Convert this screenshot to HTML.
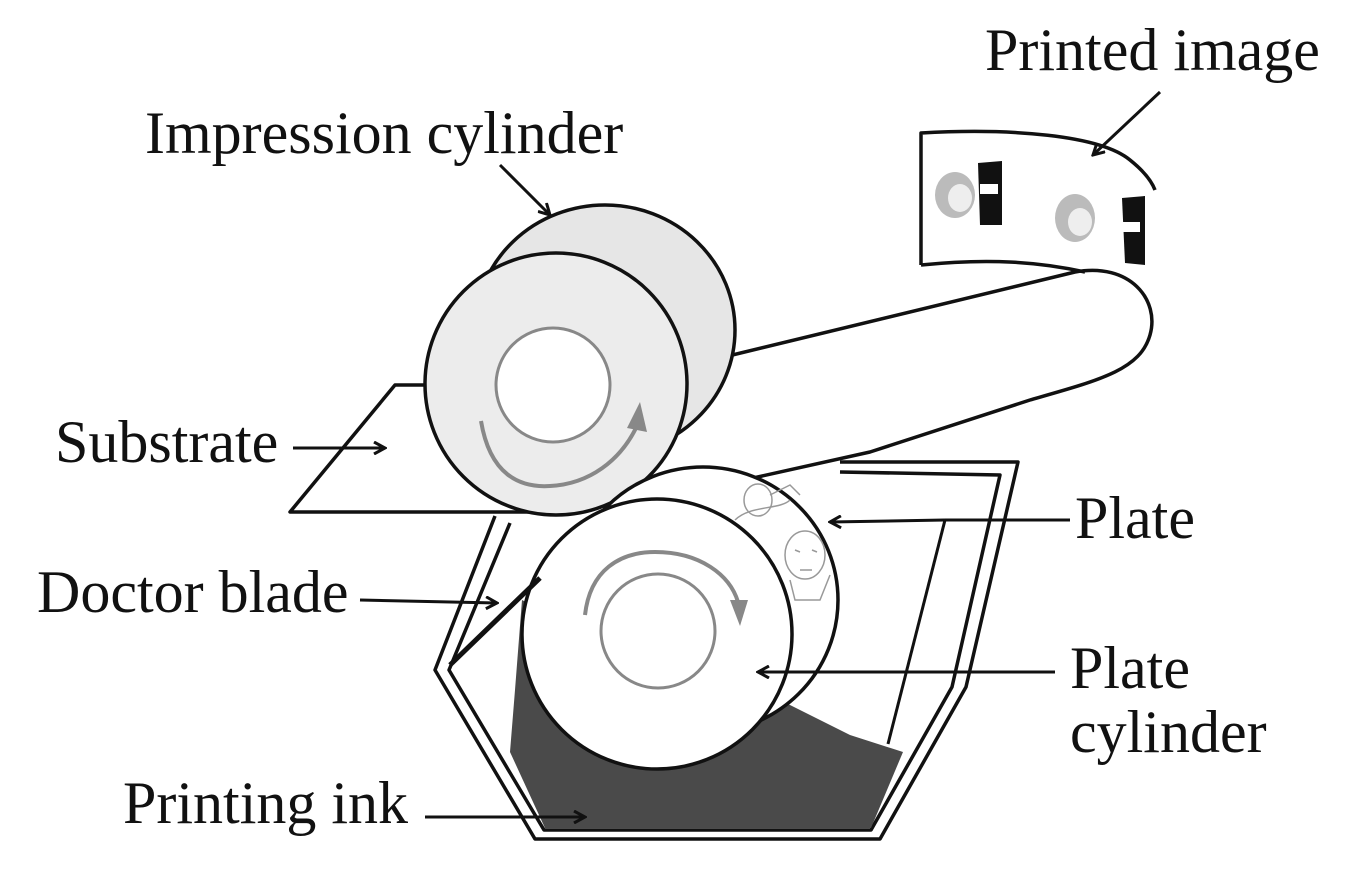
<!DOCTYPE html>
<html><head><style>
html,body{margin:0;padding:0;background:#fff;}
svg{display:block;}
text{font-family:"Liberation Serif",serif;font-size:60px;fill:#111;}
</style></head><body>
<svg width="1368" height="877" viewBox="0 0 1368 877" xmlns="http://www.w3.org/2000/svg">
<defs>
<marker id="ah" markerWidth="14" markerHeight="14" refX="12" refY="7" orient="auto" markerUnits="userSpaceOnUse">
<path d="M1,1 L12,7 L1,13" fill="none" stroke="#111" stroke-width="3"/>
</marker>
</defs>
<g fill="none" stroke="#111" stroke-width="3.5" stroke-linejoin="round">
<path d="M440,385 L395,385 L290,512 L560,512" fill="#fff"/>
<path d="M720,358 L1075,272 C1130,262 1160,300 1150,335 C1140,370 1100,380 1030,400 L870,452 L600,512" fill="#fff"/>
<path d="M921,265 L921,133 C1010,128 1100,135 1130,160 C1145,172 1152,182 1155,190" fill="#fff"/>
<path d="M921,265 C990,258 1040,262 1085,272"/>
<path d="M840,462 L1018,462 L966,687 L880,839 L535,839 L435,670 L495,516"/>
<path d="M840,472 L1000,475 L952,687 L871,830 L544,830 L449,670 L510,523"/>
</g>
<g>
<ellipse cx="955" cy="195" rx="20" ry="23" fill="#bbb"/>
<ellipse cx="960" cy="198" rx="12" ry="14" fill="#eee"/>
<path d="M978,163 L1002,161 L1002,225 L980,225 Z" fill="#111"/>
<rect x="980" y="184" width="18" height="10" fill="#fff"/>
<ellipse cx="1075" cy="218" rx="20" ry="24" fill="#bbb"/>
<ellipse cx="1080" cy="222" rx="12" ry="14" fill="#eee"/>
<path d="M1122,198 L1145,196 L1145,265 L1125,263 Z" fill="#111"/>
<rect x="1120" y="222" width="20" height="10" fill="#fff"/>
</g>
<g stroke="#111" stroke-width="3.5">
<ellipse cx="605" cy="330" rx="130" ry="125" fill="#e6e6e6"/>
<ellipse cx="556" cy="384" rx="131" ry="131" fill="#ececec"/>
</g>
<circle cx="553" cy="385" r="57" fill="#fff" stroke="#888" stroke-width="3"/>
<path d="M481,421 C490,475 520,488 550,486 C590,484 620,460 636,428" fill="none" stroke="#888" stroke-width="4"/>
<path d="M627,428 L640,402 L647,432 Z" fill="#888"/>
<path d="M545,828 L510,752 L515,690 L522,600 L600,640 L780,700 L850,735 L903,752 L871,828 Z" fill="#4a4a4a"/>
<g stroke="#111" stroke-width="3.5">
<ellipse cx="703" cy="600" rx="135" ry="133" fill="#fff"/>
<ellipse cx="657" cy="634" rx="135" ry="135" fill="#fff"/>
</g>
<g fill="none" stroke="#999" stroke-width="1.5">
<ellipse cx="758" cy="500" rx="14" ry="16"/>
<path d="M735,520 C750,505 780,510 790,500 M770,495 L790,485 L800,495"/>
<ellipse cx="805" cy="555" rx="20" ry="24"/>
<path d="M795,550 L800,552 M812,550 L817,552 M800,570 L812,570 M790,580 L795,600 L820,600 L830,575"/>
</g>
<circle cx="658" cy="631" r="57" fill="#fff" stroke="#888" stroke-width="3"/>
<path d="M585,615 C590,570 620,552 655,552 C700,552 730,575 738,602" fill="none" stroke="#888" stroke-width="4"/>
<path d="M730,600 L748,600 L740,626 Z" fill="#888"/>
<line x1="540" y1="578" x2="450" y2="665" stroke="#111" stroke-width="5"/>
<g stroke="#111" stroke-width="3" fill="none">
<line x1="1070" y1="520" x2="945" y2="520"/>
<line x1="945" y1="520" x2="888" y2="744"/>
<line x1="945" y1="520" x2="830" y2="522" marker-end="url(#ah)"/>
<line x1="500" y1="165" x2="550" y2="215" marker-end="url(#ah)"/>
<line x1="1160" y1="92" x2="1093" y2="155" marker-end="url(#ah)"/>
<line x1="293" y1="448" x2="385" y2="448" marker-end="url(#ah)"/>
<line x1="360" y1="600" x2="497" y2="603" marker-end="url(#ah)"/>
<line x1="1055" y1="672" x2="758" y2="672" marker-end="url(#ah)"/>
<line x1="425" y1="817" x2="585" y2="817" marker-end="url(#ah)"/>
</g>
<text x="985" y="70">Printed image</text>
<text x="145" y="153">Impression cylinder</text>
<text x="55" y="462">Substrate</text>
<text x="1075" y="538">Plate</text>
<text x="37" y="612">Doctor blade</text>
<text x="1070" y="688">Plate</text>
<text x="1070" y="752">cylinder</text>
<text x="123" y="823">Printing ink</text>
</svg>
</body></html>
